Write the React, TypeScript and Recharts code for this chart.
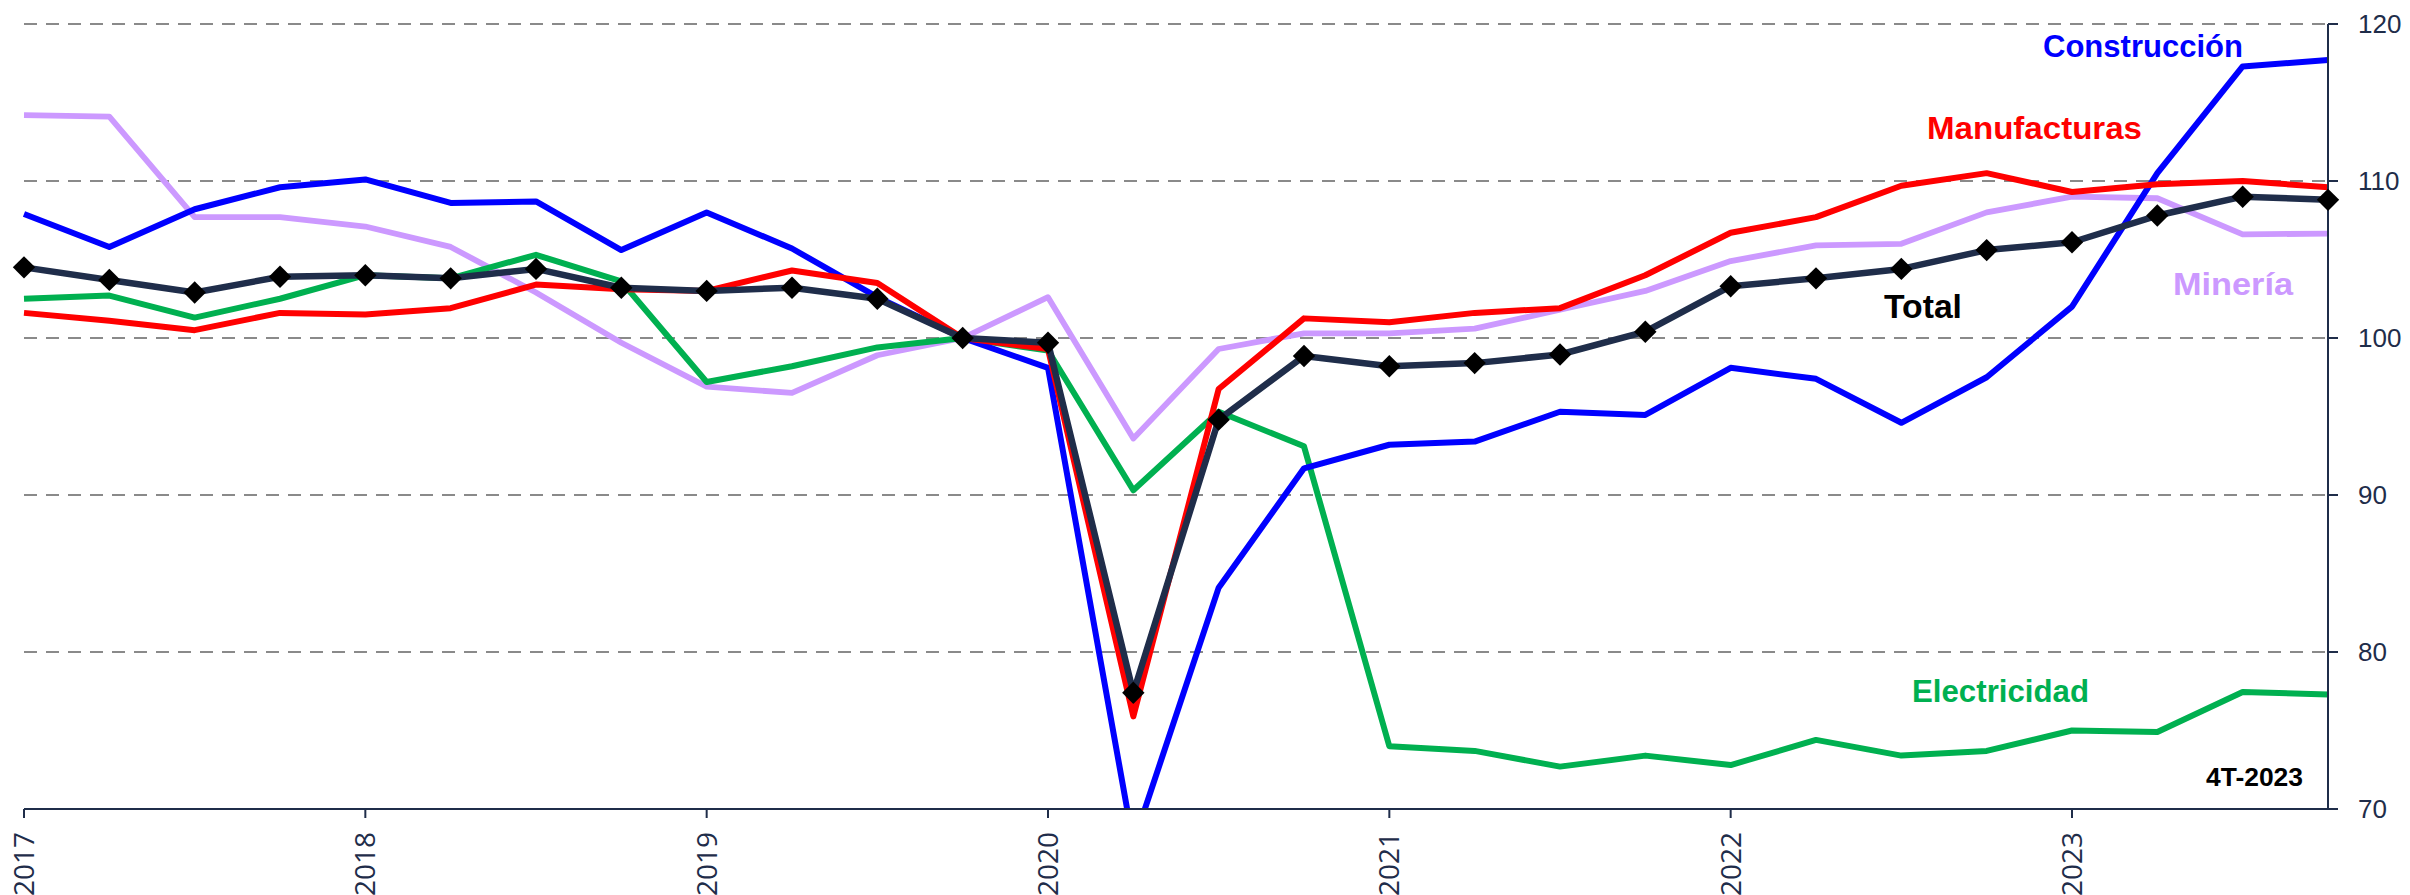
import React from "react";
import { LineChart, Line, XAxis, YAxis, CartesianGrid } from "recharts";

const quarters = [
  "2017T1","2017T2","2017T3","2017T4",
  "2018T1","2018T2","2018T3","2018T4",
  "2019T1","2019T2","2019T3","2019T4",
  "2020T1","2020T2","2020T3","2020T4",
  "2021T1","2021T2","2021T3","2021T4",
  "2022T1","2022T2","2022T3","2022T4",
  "2023T1","2023T2","2023T3","2023T4",
];

const total = [104.5, 103.7, 102.9, 103.9, 104.0, 103.8, 104.4, 103.2, 103.0, 103.2, 102.5, 100.0, 99.7, 77.4, 94.8, 98.85, 98.2, 98.4, 98.95, 100.4, 103.3, 103.8, 104.4, 105.6, 106.1, 107.8, 109.0, 108.8];
const construccion = [107.9, 105.8, 108.2, 109.6, 110.1, 108.6, 108.7, 105.6, 108.0, 105.7, 102.6, 100.0, 98.1, 67.8, 84.1, 91.7, 93.2, 93.4, 95.3, 95.1, 98.1, 97.4, 94.6, 97.5, 102.0, 110.5, 117.3, 117.7];
const manufacturas = [101.6, 101.1, 100.5, 101.6, 101.5, 101.9, 103.4, 103.1, 103.0, 104.3, 103.5, 100.0, 99.3, 75.9, 96.75, 101.25, 101.0, 101.6, 101.9, 104.0, 106.7, 107.7, 109.7, 110.5, 109.3, 109.8, 110.0, 109.6];
const mineria = [114.2, 114.1, 107.7, 107.7, 107.1, 105.8, 102.9, 99.7, 96.9, 96.5, 98.9, 100.0, 102.6, 93.6, 99.3, 100.3, 100.3, 100.6, 101.8, 103.0, 104.9, 105.9, 106.0, 108.0, 109.0, 108.9, 106.6, 106.65];
const electricidad = [102.5, 102.7, 101.3, 102.5, 104.0, 103.8, 105.3, 103.6, 97.2, 98.2, 99.4, 100.0, 99.2, 90.3, 95.3, 93.1, 74.0, 73.7, 72.7, 73.4, 72.8, 74.4, 73.4, 73.7, 75.0, 74.9, 77.45, 77.3];

const yTicks = [70, 80, 90, 100, 110, 120];

const seriesLabels = [
  { text: "Construcción", color: "#0000FF" },
  { text: "Manufacturas", color: "#FF0000" },
  { text: "Total", color: "#000000" },
  { text: "Minería", color: "#CC99FF" },
  { text: "Electricidad", color: "#00B050" },
];
const periodLabel = "4T-2023";

const data = quarters.map((q, i) => ({
  q,
  total: total[i],
  construccion: construccion[i],
  manufacturas: manufacturas[i],
  mineria: mineria[i],
  electricidad: electricidad[i],
}));

const AXIS = "#1F2D4A";

const XTick = (props: any) => {
  const { x, y, payload } = props;
  const label = String(payload.value).slice(0, 4);
  return (
    <text
      x={x}
      y={y}
      transform={`rotate(-90 ${x} ${y})`}
      textAnchor="end"
      dy="0.36em"
      fill={AXIS}
      fontFamily="'Open Sans', sans-serif"
      fontSize={28}
    >
      {label}
    </text>
  );
};

const YTick = (props: any) => {
  const { x, y, payload } = props;
  return (
    <text
      x={x}
      y={y}
      textAnchor="start"
      dy="0.36em"
      fill={AXIS}
      fontFamily="'Liberation Sans', Arial, sans-serif"
      fontSize={26}
    >
      {payload.value}
    </text>
  );
};

const Diamond = (props: any) => {
  const { cx, cy, index } = props;
  if (cx == null || cy == null) return <g key={`d-${index}`} />;
  const w = 11.2;
  const h = 11.2;
  return (
    <polygon
      key={`d-${index}`}
      points={`${cx},${cy - h} ${cx + w},${cy} ${cx},${cy + h} ${cx - w},${cy}`}
      fill="#000000"
    />
  );
};

const labelPos = [
  { x: 2043, y: 57, w: 200, size: 32 },
  { x: 1927, y: 139, w: 215, size: 32 },
  { x: 1884, y: 318, w: 78, size: 33 },
  { x: 2173, y: 295, w: 120, size: 32 },
  { x: 1912, y: 702, w: 177, size: 32 },
];

export default function App() {
  return (
    <div style={{ position: "absolute", left: 0, top: 0, width: 2410, height: 895, background: "#ffffff" }}>
      <LineChart
        width={2410}
        height={895}
        data={data}
        margin={{ top: 24, right: 0, bottom: 0, left: 24 }}
      >
        <CartesianGrid vertical={false} stroke="#8A8A8A" strokeWidth={2} strokeDasharray="13 9" />
        <XAxis
          dataKey="q"
          interval={3}
          height={86}
          tickSize={9}
          tickMargin={14}
          axisLine={{ stroke: AXIS, strokeWidth: 2 }}
          tickLine={{ stroke: AXIS, strokeWidth: 2 }}
          tick={<XTick />}
        />
        <YAxis
          orientation="right"
          domain={[70, 120]}
          ticks={yTicks}
          allowDataOverflow
          width={82}
          tickSize={10}
          tickMargin={20}
          axisLine={{ stroke: AXIS, strokeWidth: 2 }}
          tickLine={{ stroke: AXIS, strokeWidth: 2 }}
          tick={<YTick />}
        />
        <Line dataKey="mineria" stroke="#CC99FF" strokeWidth={5.8} strokeLinejoin="round" dot={false} activeDot={false} isAnimationActive={false} />
        <Line dataKey="electricidad" stroke="#00B050" strokeWidth={6} strokeLinejoin="round" dot={false} activeDot={false} isAnimationActive={false} />
        <Line dataKey="construccion" stroke="#0000FF" strokeWidth={6} strokeLinejoin="round" dot={false} activeDot={false} isAnimationActive={false} />
        <Line dataKey="manufacturas" stroke="#FF0000" strokeWidth={6} strokeLinejoin="round" dot={false} activeDot={false} isAnimationActive={false} />
        <Line dataKey="total" stroke="#1F2D4A" strokeWidth={6.5} strokeLinejoin="round" dot={<Diamond />} activeDot={false} isAnimationActive={false} />
      </LineChart>
      <svg
        width={2410}
        height={895}
        style={{ position: "absolute", left: 0, top: 0, pointerEvents: "none" }}
      >
        {seriesLabels.map((l, i) => (
          <text
            key={l.text}
            x={labelPos[i].x}
            y={labelPos[i].y}
            fill={l.color}
            fontFamily="'Liberation Sans', Arial, sans-serif"
            fontWeight="bold"
            fontSize={labelPos[i].size}
            textLength={labelPos[i].w}
            lengthAdjust="spacingAndGlyphs"
          >
            {l.text}
          </text>
        ))}
        <text
          x={2206}
          y={786}
          fill="#000000"
          fontFamily="'Liberation Sans', Arial, sans-serif"
          fontWeight="bold"
          fontSize={25}
          textLength={97}
          lengthAdjust="spacingAndGlyphs"
        >
          {periodLabel}
        </text>
      </svg>
    </div>
  );
}
